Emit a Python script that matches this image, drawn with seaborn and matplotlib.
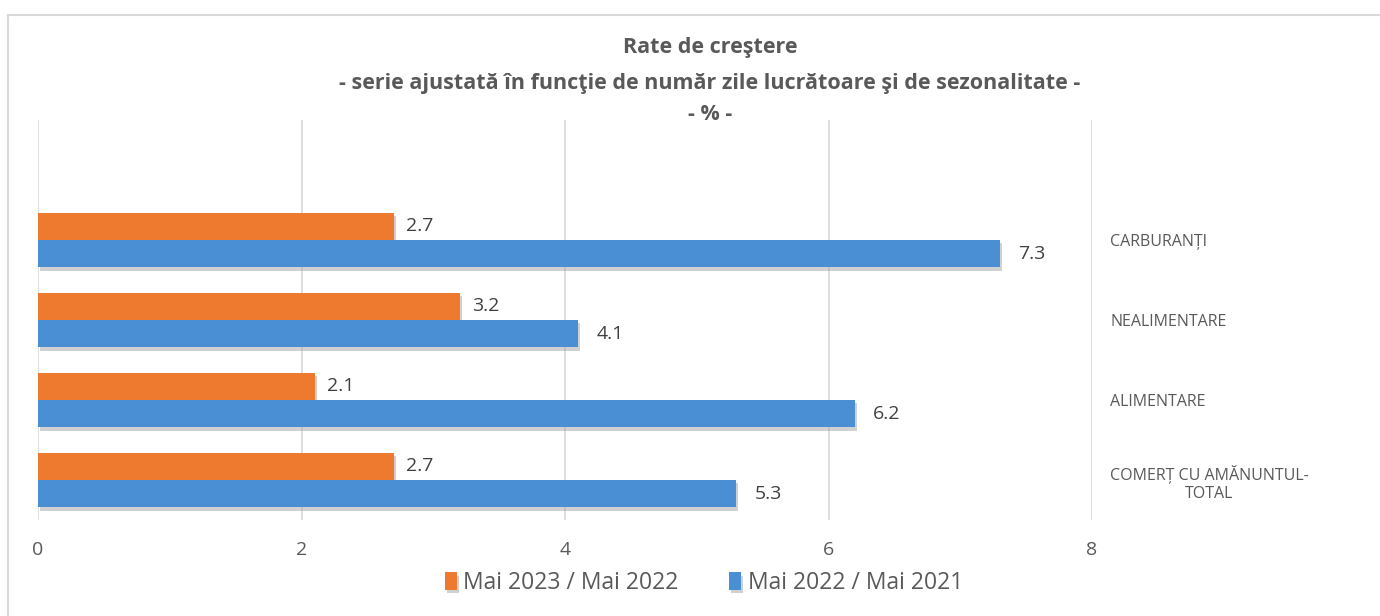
import matplotlib
matplotlib.use("Agg")
import matplotlib.pyplot as plt
import matplotlib.patheffects as pe
import pandas as pd
import seaborn as sns

# Chart data
categories = ["CARBURANȚI", "NEALIMENTARE", "ALIMENTARE", "COMERȚ CU AMĂNUNTUL-\nTOTAL"]
series_names = ["Mai 2023 / Mai 2022", "Mai 2022 / Mai 2021"]
values_2023 = [2.7, 3.2, 2.1, 2.7]
values_2022 = [7.3, 4.1, 6.2, 5.3]
x_ticks = [0, 2, 4, 6, 8]
title_lines = ["Rate de creştere",
               "- serie ajustată în funcţie de număr zile lucrătoare şi de sezonalitate -",
               "- % -"]

colors = ["#EE7A30", "#4A8FD3"]
text_gray = "#595959"

sns.set_theme(style="white")
plt.rcParams["font.family"] = ["Open Sans", "DejaVu Sans"]

df = pd.DataFrame({
    "category": categories * 2,
    "series": [series_names[0]] * len(categories) + [series_names[1]] * len(categories),
    "value": values_2023 + values_2022,
})

fig = plt.figure(figsize=(13.8, 6.16), dpi=100)
ax = fig.add_axes([38 / 1380, 1 - 520 / 616, (1092 - 38) / 1380, 400 / 616])

sns.barplot(data=df, x="value", y="category", hue="series", order=categories,
            hue_order=series_names, palette=colors, orient="h", width=0.68,
            saturation=1, linewidth=0, ax=ax, legend=True)

shadow = [pe.SimplePatchShadow(offset=(1.5, -2.5), shadow_rgbFace="#999999", alpha=0.45), pe.Normal()]
for p in ax.patches:
    p.set_path_effects(shadow)

for cont, pad in zip(ax.containers, [9, 13]):
    ax.bar_label(cont, labels=[f"{v:.1f}" for v in cont.datavalues], padding=pad,
                 fontsize=14, color="#404040")

ax.set_xlim(0, 8)
ax.set_ylim(len(categories) - 0.5, -1.5)
ax.set_xticks(x_ticks)
ax.set_xticklabels([str(t) for t in x_ticks])
ax.tick_params(axis="x", length=0, pad=15, labelsize=14, labelcolor=text_gray)
ax.yaxis.tick_right()
ax.tick_params(axis="y", length=0, pad=13, labelsize=11.5, labelcolor=text_gray)
for lbl in ax.get_yticklabels():
    lbl.set_multialignment("center")
ax.set_xlabel("")
ax.set_ylabel("")
ax.grid(axis="x", color="#D9D9D9", linewidth=1.2)
ax.set_axisbelow(True)
for s in ax.spines.values():
    s.set_visible(False)

handles, labels = ax.get_legend_handles_labels()
ax.legend_.remove()
fig.legend(handles, labels, loc="center", bbox_to_anchor=(704 / 1380, 1 - 583 / 616),
           ncol=2, frameon=False, fontsize=16.5, handlelength=0.5, handleheight=0.8,
           handletextpad=0.3, columnspacing=2.2, labelcolor=text_gray)

for line, y in zip(title_lines, [47, 83, 114]):
    fig.text(710 / 1380, 1 - y / 616, line, ha="center", va="center",
             fontsize=15.5, fontweight="bold", color=text_gray)

border = plt.Rectangle((8 / 1380, -0.05), 1.1, 1 - 15 / 616 + 0.05, transform=fig.transFigure,
                       fill=False, edgecolor="#D9D9D9", linewidth=1.5)
fig.patches.append(border)

fig.savefig("out.png", dpi=100)
